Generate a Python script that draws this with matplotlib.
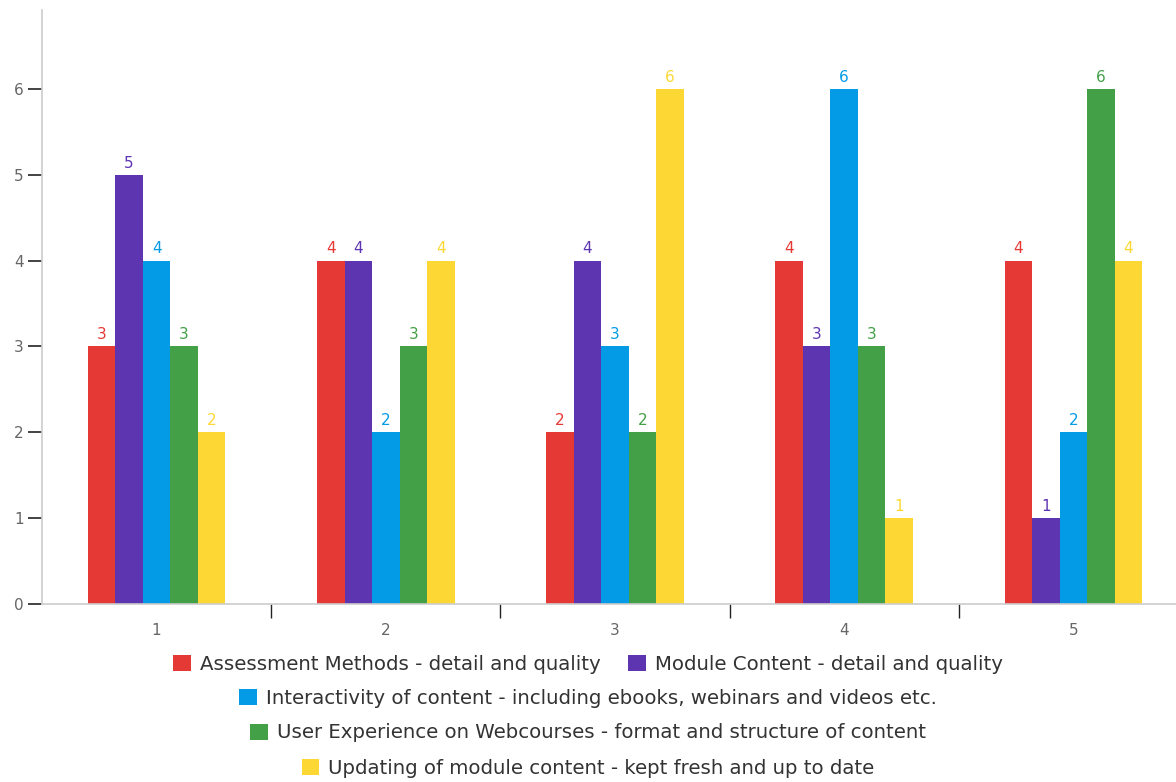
import matplotlib.pyplot as plt
import numpy as np

plt.rcParams['font.family'] = ['DejaVu Sans']

groups = ['1', '2', '3', '4', '5']
series = [
    'Assessment Methods - detail and quality',
    'Module Content - detail and quality',
    'Interactivity of content - including ebooks, webinars and videos etc.',
    'User Experience on Webcourses - format and structure of content',
    'Updating of module content - kept fresh and up to date',
]
assessment = [3, 4, 2, 4, 4]
module_content = [5, 4, 4, 3, 1]
interactivity = [4, 2, 3, 6, 2]
user_experience = [3, 3, 2, 3, 6]
updating = [2, 4, 6, 1, 4]
values = [assessment, module_content, interactivity, user_experience, updating]
colors = ['#E53935', '#5E35B1', '#039BE5', '#43A047', '#FDD835']

fig = plt.figure(figsize=(11.76, 7.82), dpi=100)
ax = fig.add_axes([42/1176, 1 - 604/782, 1146/1176, 594/782])

x = np.arange(len(groups))
w = 0.6 / len(series)
handles = []
for i, (vals, c) in enumerate(zip(values, colors)):
    bars = ax.bar(x - 0.3 + w * (i + 0.5), vals, w, color=c, label=series[i])
    ax.bar_label(bars, padding=3, color=c, fontsize=11)
    handles.append(bars)

ax.set_xlim(-0.5, len(groups) - 0.5)
ax.set_ylim(0, 6.92)
ax.set_yticks(range(7))
ax.set_xticks(x + 0.5)
ax.set_xticklabels([])
ax.set_xticks(x, minor=True)
ax.set_xticklabels(groups, minor=True)
ax.tick_params(axis='x', which='major', length=10, width=1, color='#222222')
ax.tick_params(axis='x', which='minor', length=0, pad=14, labelsize=11, labelcolor='#666666')
ax.tick_params(axis='y', length=10, width=1.2, color='#222222', labelsize=11, labelcolor='#666666', pad=3)
for s in ['top', 'right']:
    ax.spines[s].set_visible(False)
for s in ['left', 'bottom']:
    ax.spines[s].set_color('#cccccc')
    ax.spines[s].set_linewidth(1.2)

# legend rows, centered under the plot
rows = [[0, 1], [2], [3], [4]]
ys = [1 - 664/782, 1 - 698/782, 1 - 733/782, 1 - 768/782]
for r, yy in zip(rows, ys):
    leg = fig.legend([handles[i] for i in r], [series[i] for i in r],
                     loc='center', bbox_to_anchor=(0.5, yy), ncol=len(r),
                     frameon=False, fontsize=14.2, handlelength=0.9, handleheight=0.9,
                     handletextpad=0.45, columnspacing=1.4, borderpad=0, borderaxespad=0)
    for t in leg.get_texts():
        t.set_color('#333333')

fig.savefig('out.png', dpi=100)
